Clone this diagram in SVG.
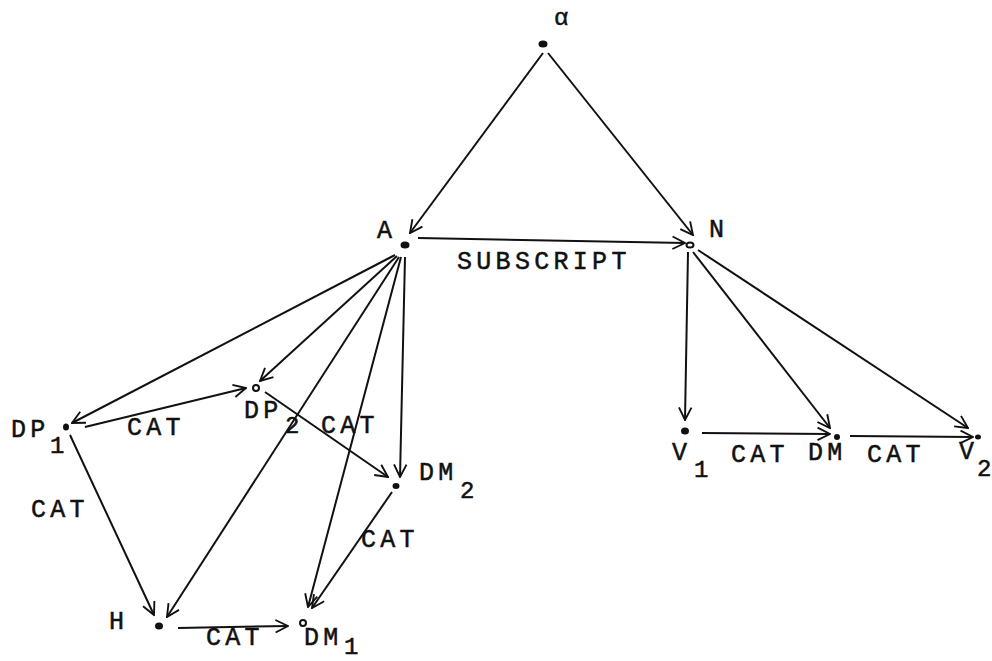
<svg xmlns="http://www.w3.org/2000/svg" width="992" height="661" viewBox="0 0 992 661">
<style>
.bg{fill:#fff}
.e{stroke:#111;stroke-width:2;fill:none;marker-end:url(#ah)}
.t{font-family:"Liberation Mono","Courier New",monospace;font-size:25px;fill:#111;stroke:#111;stroke-width:0.5;letter-spacing:4.3px}
.s{font-family:"Liberation Mono","Courier New",monospace;font-size:24px;fill:#111;stroke:#111;stroke-width:0.5}
.d{fill:#111}
.h{fill:#fff;stroke:#111;stroke-width:2}
</style>
<defs>
<marker id="ah" viewBox="-1 -1 12 12" refX="10" refY="5" markerWidth="15" markerHeight="15" markerUnits="userSpaceOnUse" orient="auto">
<path d="M0,0 L10,5 L0,10" fill="none" stroke="#111" stroke-width="1.5"/>
</marker>
</defs>
<rect class="bg" width="992" height="661"/>
<g id="connectors">
<line class="e" x1="543" y1="53" x2="410" y2="233"/>
<line class="e" x1="548" y1="53" x2="693" y2="235"/>
<line class="e" x1="418" y1="238" x2="685" y2="243"/>
<line class="e" x1="395" y1="255" x2="72" y2="423"/>
<line class="e" x1="397" y1="256" x2="260" y2="381"/>
<line class="e" x1="399" y1="257" x2="167" y2="617"/>
<line class="e" x1="401" y1="257" x2="308" y2="607"/>
<line class="e" x1="405" y1="257" x2="400" y2="477"/>
<line class="e" x1="85" y1="427" x2="246" y2="388"/>
<line class="e" x1="265" y1="392" x2="388" y2="477"/>
<line class="e" x1="70" y1="435" x2="154" y2="615"/>
<line class="e" x1="392" y1="492" x2="312" y2="608"/>
<line class="e" x1="178" y1="628" x2="288" y2="626"/>
<line class="e" x1="688" y1="252" x2="685" y2="420"/>
<line class="e" x1="693" y1="252" x2="830" y2="428"/>
<line class="e" x1="698" y1="250" x2="968" y2="428"/>
<line class="e" x1="702" y1="433" x2="830" y2="434"/>
<line class="e" x1="850" y1="436" x2="973" y2="437"/>
</g>
<g id="alpha"><ellipse class="d" cx="543" cy="44" rx="4.5" ry="3.5"/><text class="s" x="554" y="25">α</text></g>
<g id="A"><ellipse class="d" cx="405" cy="245" rx="4.5" ry="3.5"/><text class="t" x="377" y="238">A</text></g>
<g id="N"><ellipse class="h" cx="690" cy="245" rx="3.5" ry="2.5"/><text class="t" x="709" y="237">N</text></g>
<g id="subscript-label"><text class="t" x="457" y="269">SUBSCRIPT</text></g>
<g id="DP1"><ellipse class="d" cx="66" cy="427" rx="3" ry="3.5"/><text class="t" x="11" y="437">DP</text><text class="s" x="50" y="453">1</text><text class="t" x="127" y="435">CAT</text></g>
<g id="DP2"><ellipse class="h" cx="256" cy="388" rx="3" ry="3"/><text class="t" x="244" y="418">DP</text><text class="s" x="285" y="433">2</text><text class="t" x="321" y="433">CAT</text></g>
<g id="DM2"><ellipse class="d" cx="396" cy="486" rx="3.5" ry="3"/><text class="t" x="419" y="480">DM</text><text class="s" x="460" y="498">2</text><text class="t" x="361" y="547">CAT</text></g>
<g id="H"><ellipse class="d" cx="159" cy="626" rx="4" ry="3.5"/><text class="t" x="109" y="629">H</text><text class="t" x="206" y="645">CAT</text></g>
<g id="DM1"><ellipse class="h" cx="303" cy="623" rx="3" ry="3"/><text class="t" x="304" y="645">DM</text><text class="s" x="344" y="654">1</text></g>
<g id="cat-left"><text class="t" x="31" y="517">CAT</text></g>
<g id="V1"><ellipse class="d" cx="685" cy="431" rx="4" ry="3.5"/><text class="t" x="672" y="460">V</text><text class="s" x="694" y="477">1</text><text class="t" x="731" y="462">CAT</text></g>
<g id="DM"><ellipse class="d" cx="837" cy="437" rx="3" ry="3"/><text class="t" x="808" y="460">DM</text><text class="t" x="867" y="462">CAT</text></g>
<g id="V2"><ellipse class="d" cx="978" cy="437" rx="3" ry="2.5"/><text class="t" x="959" y="459">V</text><text class="s" x="977" y="476">2</text></g>
</svg>
